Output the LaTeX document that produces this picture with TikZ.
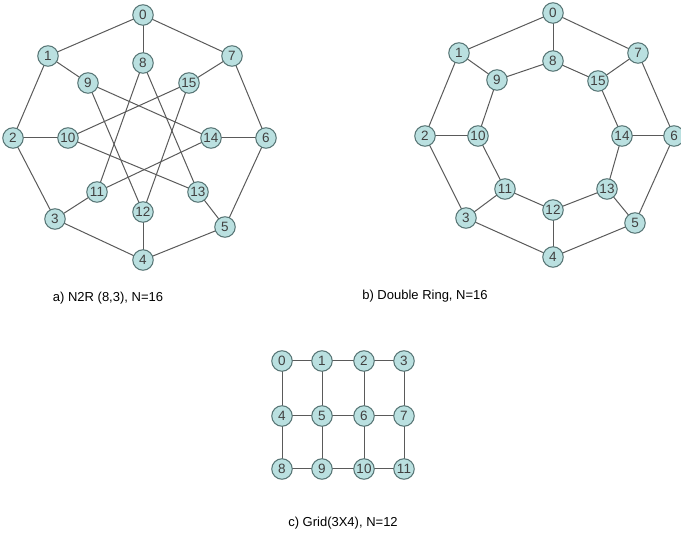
\documentclass[tikz,border=0pt]{standalone}
\usepackage{fontspec}
\setmainfont{Liberation Sans}
\definecolor{nodefill}{RGB}{186,224,224}
\definecolor{nodeedge}{RGB}{85,115,115}
\definecolor{edgecol}{RGB}{90,90,90}
\begin{document}
\begin{tikzpicture}[x=1pt,y=-1pt,
  vert/.style={circle,draw=nodeedge,fill=nodefill,line width=1pt,minimum size=20.5pt,inner sep=0pt,font=\fontsize{13.5}{13.5}\selectfont,text=black!75},
  link/.style={draw=edgecol,line width=1pt},
  captext/.style={font=\fontsize{13}{13}\selectfont,anchor=center}]
\useasboundingbox (0,0) rectangle (681,537);
% ---------- a) N2R ----------
\begin{scope}
\foreach \n/\x/\y in {0/143/15,1/48/56,2/13/138,3/55/219,4/143/260,5/225/227,6/266/138,7/232/56,
  8/143/63,9/88/83,10/68/138,11/97/192,12/143/212,13/198/192,14/211/138,15/189/83}
  \coordinate (a\n) at (\x,\y);
\foreach \u/\v in {0/1,1/2,2/3,3/4,4/5,5/6,6/7,7/0,0/8,1/9,2/10,3/11,4/12,5/13,6/14,7/15,
  8/11,9/12,10/13,11/14,12/15,13/8,14/9,15/10}
  \draw[link] (a\u) -- (a\v);
\foreach \n in {0,...,15}
  \node[vert] (na\n) at (a\n) {\n};
\node[captext] (capa) at (108,298) {a) N2R (8,3), N=16};
\end{scope}
% ---------- b) Double Ring ----------
\begin{scope}
\foreach \n/\x/\y in {0/553/13,1/459/53,2/425/136,3/466/218,4/553/257,5/635/223,6/674/136,7/638/53,
  8/553/61,9/497/80,10/478/136,11/505/189,12/553/210,13/607/189,14/622/136,15/598/81}
  \coordinate (b\n) at (\x,\y);
\foreach \u/\v in {0/1,1/2,2/3,3/4,4/5,5/6,6/7,7/0,0/8,1/9,2/10,3/11,4/12,5/13,6/14,7/15,
  8/9,9/10,10/11,11/12,12/13,13/14,14/15,15/8}
  \draw[link] (b\u) -- (b\v);
\foreach \n in {0,...,15}
  \node[vert] (nb\n) at (b\n) {\n};
\node[captext] (capb) at (425,296) {b) Double Ring, N=16};
\end{scope}
% ---------- c) Grid ----------
\begin{scope}
\foreach \r/\y in {0/361,1/416,2/469}
  \foreach \c/\x in {0/282,1/322,2/364,3/404}
  {\pgfmathtruncatemacro{\k}{4*\r+\c}
   \coordinate (c\k) at (\x,\y);}
\foreach \u/\v in {0/1,1/2,2/3,4/5,5/6,6/7,8/9,9/10,10/11,0/4,1/5,2/6,3/7,4/8,5/9,6/10,7/11}
  \draw[link] (c\u) -- (c\v);
\foreach \n in {0,...,11}
  \node[vert] (nc\n) at (c\n) {\n};
\node[captext] (capc) at (343,523) {c) Grid(3X4), N=12};
\end{scope}
\end{tikzpicture}
\end{document}
